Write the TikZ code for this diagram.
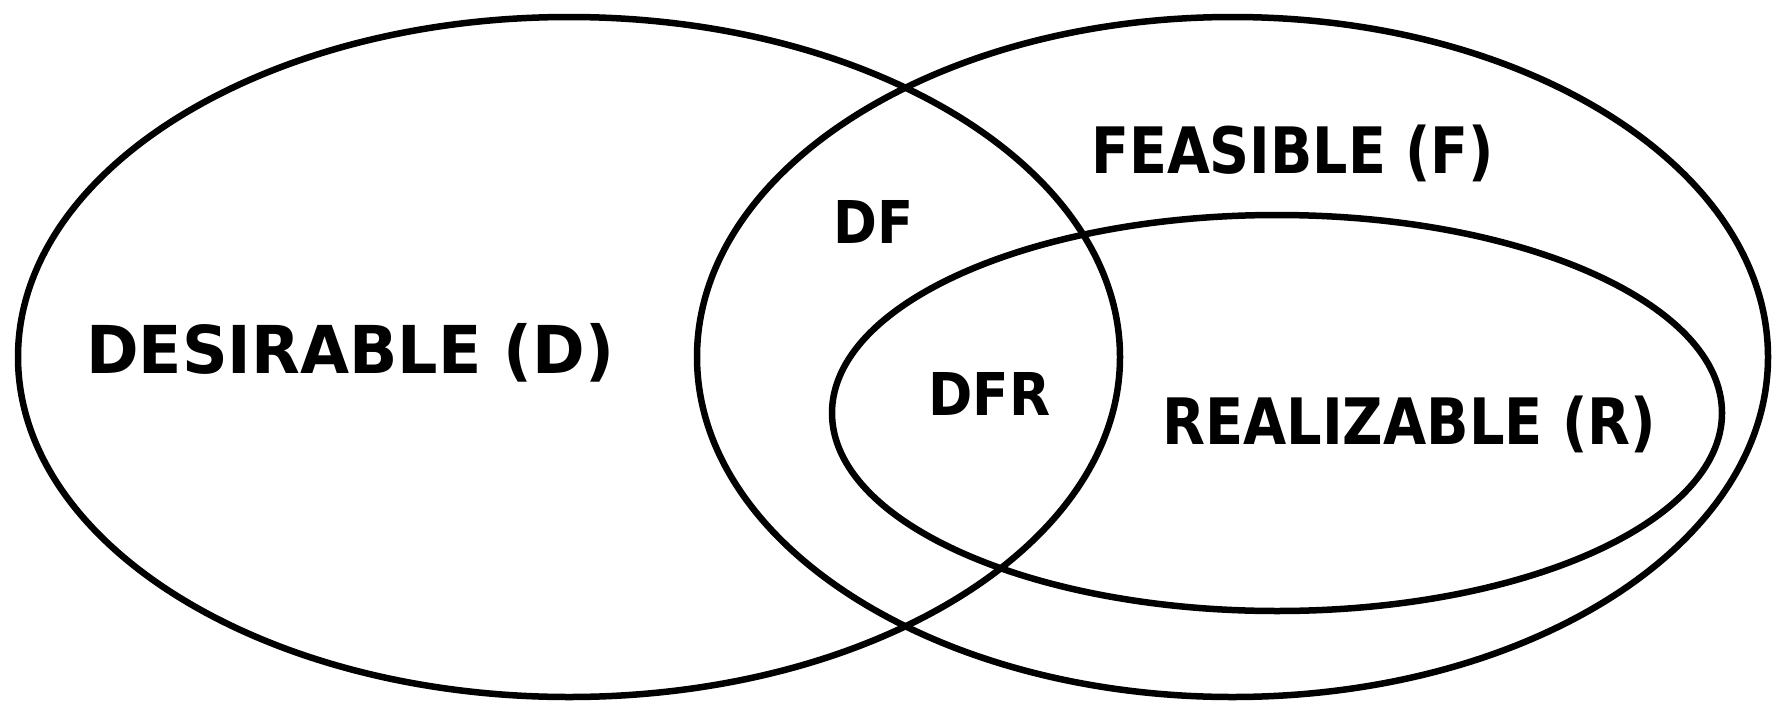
\documentclass[tikz,border=0pt]{standalone}
\usepackage{fontspec}
\setmainfont{DejaVu Sans}
\usepackage{graphicx}
\tikzset{
  set/.style={draw=black, line width=6.5pt},
  lbl/.style={anchor=base west, inner sep=0pt, font=\bfseries},
}
\newcommand{\fitlabel}[3]{\resizebox{#1pt}{\height}{\fontsize{#2}{#2}\selectfont #3}}
\begin{document}
\begin{tikzpicture}[x=1pt,y=-1pt]
\useasboundingbox (0,0) rectangle (1775,707);
\fill[white] (0,0) rectangle (1775,707);
\draw[set] (569,357) ellipse [x radius=551, y radius=340];
\draw[set] (1232.5,357) ellipse [x radius=535.5, y radius=340];
\draw[set] (1277,413) ellipse [x radius=445, y radius=198];
\node[lbl] (D) at (86,373) {\fitlabel{528}{66}{DESIRABLE (D)}};
\node[lbl] (F) at (1091,173) {\fitlabel{403}{64}{FEASIBLE (F)}};
\node[lbl] (R) at (1162,444) {\fitlabel{494}{64}{REALIZABLE (R)}};
\node[lbl] (DF) at (833,243) {\fitlabel{80}{59}{DF}};
\node[lbl] (DFR) at (928,415) {\fitlabel{122}{59}{DFR}};
\end{tikzpicture}
\end{document}
